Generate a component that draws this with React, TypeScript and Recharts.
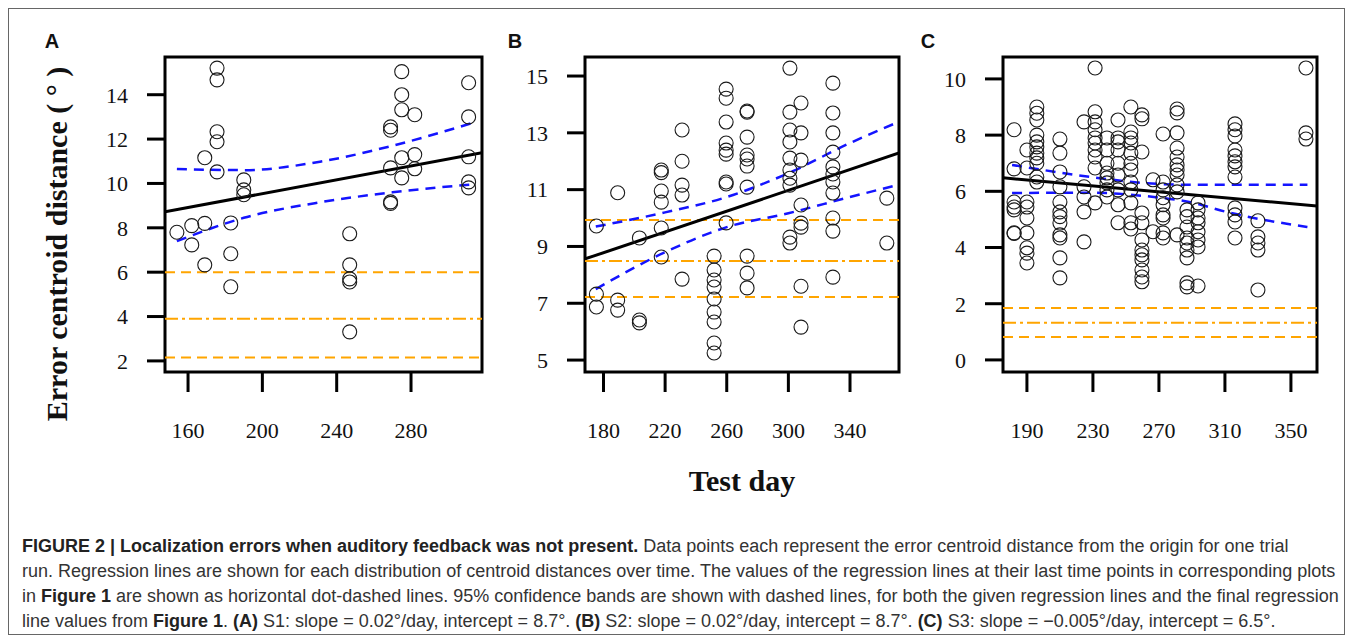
import { ComposedChart, Scatter, Line, XAxis, YAxis, ReferenceLine, ReferenceArea } from 'recharts';

// ---- Panel A (S1) ----
const aDays = [154, 162, 162, 169, 169, 169, 175.6, 175.6, 175.6, 175.6, 175.6, 183, 183, 183, 190, 190, 190,
  247, 247, 247, 247, 247, 269, 269, 269, 269, 269, 275, 275, 275, 275, 275, 282, 282, 282, 311, 311, 311, 311, 311];
const aDist = [7.8, 8.1, 7.23, 8.2, 6.33, 11.16, 15.2, 14.67, 12.33, 11.88, 10.52, 8.22, 6.83, 5.34, 10.16, 9.71, 9.49,
  7.73, 6.33, 5.7, 5.56, 3.31, 12.55, 12.4, 10.7, 9.17, 9.1, 15.04, 14.0, 13.32, 11.16, 10.25, 13.1, 11.3, 10.66,
  14.54, 13.0, 11.2, 10.07, 9.8];
const aFitDays = [147.6, 318.2];
const aFitValues = [8.72, 11.38];
const aBandDays = [154, 190, 231, 270, 312];
const aBandUpper = [10.65, 10.6, 10.98, 11.7, 12.7];
const aBandLower = [7.4, 8.45, 9.15, 9.6, 9.95];
const aRefLevels = [6.0, 3.9, 2.15];

// ---- Panel B (S2) ----
const bDays = [175.4, 175.4, 175.4, 189.2, 189.2, 189.2, 203.3, 203.3, 203.3,
  217.5, 217.5, 217.5, 217.5, 217.5, 217.5, 231, 231, 231, 231, 231,
  259.6, 259.6, 259.6, 259.6, 259.6, 259.6, 259.6, 259.6, 259.6,
  251.8, 251.8, 251.8, 251.8, 251.8, 251.8, 251.8, 251.8, 251.8,
  273.2, 273.2, 273.2, 273.2, 273.2, 273.2, 273.2, 273.2, 273.2, 273.2,
  301, 301, 301, 301, 301, 301, 301, 301, 301, 301,
  308.2, 308.2, 308.2, 308.2, 308.2, 308.2, 308.2, 308.2,
  328.9, 328.9, 328.9, 328.9, 328.9, 328.9, 328.9, 328.9, 328.9, 328.9, 328.9,
  363.9, 363.9];
const bDist = [9.72, 7.32, 6.87, 10.89, 7.11, 6.76, 6.41, 6.31, 9.3,
  11.69, 11.6, 10.95, 10.56, 9.65, 8.63, 13.1, 12.0, 11.16, 10.81, 7.85,
  14.54, 14.22, 13.38, 12.64, 12.39, 12.25, 11.27, 11.2, 9.83,
  8.66, 8.17, 7.82, 7.57, 7.15, 6.69, 6.34, 5.6, 5.25,
  13.77, 13.73, 12.85, 12.22, 12.08, 11.83, 11.09, 8.66, 8.06, 7.54,
  15.28, 13.73, 13.1, 12.68, 12.11, 11.69, 11.4, 11.16, 9.33, 9.12,
  14.05, 13.0, 12.04, 10.46, 9.82, 9.68, 7.6, 6.16,
  14.75, 13.7, 13.0, 12.32, 11.8, 11.55, 11.27, 10.88, 10.0, 9.54, 7.92,
  10.7, 9.12];
const bFitDays = [168.0, 371.8];
const bFitValues = [8.56, 12.29];
const bBandDays = [175, 220, 260, 300, 340, 370];
const bBandUpper = [9.7, 10.2, 10.74, 11.58, 12.64, 13.35];
const bBandLower = [7.5, 8.8, 9.68, 10.17, 10.74, 11.15];
const bRefLevels = [9.93, 8.49, 7.22];

// ---- Panel C (S3) ----
const cDays = [
  182.2, 182.2, 182.2, 182.2, 182.2, 182.2, 182.2,
  190, 190, 190, 190, 190, 190, 190, 190, 190,
  196, 196, 196, 196, 196, 196, 196, 196, 196, 196, 196,
  210, 210, 210, 210, 210, 210, 210, 210, 210, 210, 210, 210,
  224.6, 224.6, 224.6, 224.6, 224.6,
  231.3, 231.3, 231.3, 231.3, 231.3, 231.3, 231.3, 231.3, 231.3, 231.3,
  238.5, 238.5, 238.5, 238.5, 238.5, 238.5, 238.5, 238.5,
  245.2, 245.2, 245.2, 245.2, 245.2, 245.2, 245.2, 245.2, 245.2,
  253, 253, 253, 253, 253, 253, 253, 253, 253, 253, 253, 253,
  259.7, 259.7, 259.7, 259.7, 259.7, 259.7, 259.7, 259.7, 259.7, 259.7, 259.7, 259.7,
  266.4, 266.4,
  272.5, 272.5, 272.5, 272.5, 272.5, 272.5, 272.5, 272.5, 272.5,
  281, 281, 281, 281, 281, 281, 281, 281, 281, 281, 281,
  287, 287, 287, 287, 287, 287, 287, 287, 287,
  293.7, 293.7, 293.7, 293.7, 293.7, 293.7, 293.7, 293.7,
  316.1, 316.1, 316.1, 316.1, 316.1, 316.1, 316.1, 316.1, 316.1, 316.1, 316.1, 316.1,
  330, 330, 330, 330, 330,
  359.1, 359.1, 359.1];
const cDist = [
  8.19, 6.8, 5.62, 5.44, 5.34, 4.52, 4.5,
  7.47, 6.83, 5.62, 5.44, 5.05, 4.52, 3.99, 3.8, 3.45,
  9.0, 8.78, 8.54, 8.0, 7.76, 7.58, 7.36, 7.19, 7.0, 6.51, 6.33,
  7.86, 7.36, 6.69, 6.16, 5.62, 5.27, 5.1, 4.87, 4.45, 4.34, 3.63, 2.92,
  8.47, 6.16, 5.8, 5.27, 4.2,
  10.39, 8.83, 8.47, 8.19, 7.9, 7.72, 7.47, 7.22, 6.83, 5.59,
  7.9, 7.47, 7.0, 6.65, 6.48, 6.3, 6.05, 5.8,
  8.54, 7.9, 7.76, 7.47, 7.0, 6.58, 6.05, 5.52, 4.88,
  9.0, 8.11, 7.9, 7.72, 7.36, 7.0, 6.76, 6.33, 6.05, 5.59, 4.88, 4.66,
  8.72, 8.58, 7.4, 5.23, 4.88, 4.27, 3.91, 3.74, 3.56, 3.2, 2.95, 2.78,
  6.41, 4.56,
  8.04, 6.33, 6.05, 5.77, 5.52, 5.16, 5.05, 4.52, 4.34,
  8.93, 8.79, 8.08, 7.54, 7.22, 6.94, 6.76, 6.58, 6.23, 5.98, 4.45,
  5.34, 5.1, 4.73, 4.34, 4.16, 3.91, 3.63, 2.74, 2.6,
  5.59, 5.34, 5.05, 4.88, 4.56, 4.27, 4.02, 2.63,
  8.4, 8.19, 7.97, 7.47, 7.26, 7.05, 6.87, 6.51, 5.41, 5.16, 4.91, 4.34,
  4.95, 4.38, 4.16, 3.91, 2.49,
  10.39, 8.08, 7.86];
const cFitDays = [175.5, 365.8];
const cFitValues = [6.48, 5.48];
const cBandDays = [181, 230, 260, 290, 312, 360];
const cBandUpper = [6.94, 6.5, 6.3, 6.23, 6.23, 6.23];
const cBandLower = [5.94, 5.95, 5.84, 5.6, 5.25, 4.73];
const cRefLevels = [1.85, 1.32, 0.82];

const zip = (xs: number[], ys: number[]) => xs.map((x, i) => ({ x, y: ys[i] }));

const serif = '"Liberation Serif", "Times New Roman", serif';
const sans = '"Liberation Sans", Arial, sans-serif';

const Ring = (props: any) => (
  <circle cx={props.cx} cy={props.cy} r={7} fill="none" stroke="#1a1a1a" strokeWidth={1.1} />
);

interface PanelProps {
  left: number;
  days: number[];
  dist: number[];
  fitDays: number[];
  fitValues: number[];
  bandDays: number[];
  upper: number[];
  lower: number[];
  refLevels: number[];
  xDomain: [number, number];
  yDomain: [number, number];
  xTicks: number[];
  yTicks: number[];
  right: number;
}

function Panel(p: PanelProps) {
  const tickStyle = { fontFamily: serif, fontSize: 22, fill: '#111' };
  return (
    <div style={{ position: 'absolute', left: p.left, top: 0 }}>
      <ComposedChart width={480} height={450} margin={{ top: 49, right: p.right, bottom: 26, left: 97 }}>
        <XAxis
          type="number"
          dataKey="x"
          domain={p.xDomain}
          ticks={p.xTicks}
          allowDataOverflow
          axisLine={false}
          tickLine={{ stroke: '#000', strokeWidth: 3 }}
          tickSize={20}
          tickMargin={30}
          height={60}
          tick={tickStyle}
        />
        <YAxis
          type="number"
          dataKey="y"
          domain={p.yDomain}
          ticks={p.yTicks}
          allowDataOverflow
          axisLine={false}
          tickLine={{ stroke: '#000', strokeWidth: 3 }}
          tickSize={18}
          tickMargin={19}
          width={60}
          tick={tickStyle}
        />
        {p.refLevels.map((lvl, i) => (
          <ReferenceLine
            key={i}
            y={lvl}
            stroke="#ffa500"
            strokeWidth={2}
            strokeDasharray={i === 1 ? '13 4 3 4' : '10 6'}
          />
        ))}
        <Scatter data={zip(p.days, p.dist)} shape={Ring} isAnimationActive={false} />
        <Line data={zip(p.bandDays, p.upper)} dataKey="y" type="monotone" stroke="#1414ff" strokeWidth={2.5}
          strokeDasharray="10 7" dot={false} isAnimationActive={false} />
        <Line data={zip(p.bandDays, p.lower)} dataKey="y" type="monotone" stroke="#1414ff" strokeWidth={2.5}
          strokeDasharray="10 7" dot={false} isAnimationActive={false} />
        <Line data={zip(p.fitDays, p.fitValues)} dataKey="y" type="linear" stroke="#000" strokeWidth={3}
          dot={false} isAnimationActive={false} />
        <ReferenceArea
          x1={p.xDomain[0]}
          x2={p.xDomain[1]}
          y1={p.yDomain[0]}
          y2={p.yDomain[1]}
          fill="none"
          fillOpacity={0}
          stroke="#000"
          strokeWidth={3}
          ifOverflow="visible"
        />
      </ComposedChart>
    </div>
  );
}

export default function App() {
  return (
    <div style={{ position: 'relative', width: 1338, height: 628 }}>
      <Panel left={0} days={aDays} dist={aDist} fitDays={aFitDays} fitValues={aFitValues}
        bandDays={aBandDays} upper={aBandUpper} lower={aBandLower} refLevels={aRefLevels}
        xDomain={[147.6, 318.2]} yDomain={[1.5, 15.7]} xTicks={[160, 200, 240, 280]}
        yTicks={[2, 4, 6, 8, 10, 12, 14]} right={6} />
      <Panel left={420} days={bDays} dist={bDist} fitDays={bFitDays} fitValues={bFitValues}
        bandDays={bBandDays} upper={bBandUpper} lower={bBandLower} refLevels={bRefLevels}
        xDomain={[168.0, 371.8]} yDomain={[4.58, 15.67]} xTicks={[180, 220, 260, 300, 340]}
        yTicks={[5, 7, 9, 11, 13, 15]} right={9} />
      <Panel left={838} days={cDays} dist={cDist} fitDays={cFitDays} fitValues={cFitValues}
        bandDays={cBandDays} upper={cBandUpper} lower={cBandLower} refLevels={cRefLevels}
        xDomain={[175.5, 365.8]} yDomain={[-0.43, 10.78]} xTicks={[190, 230, 270, 310, 350]}
        yTicks={[0, 2, 4, 6, 8, 10]} right={9} />
      <svg width={1338} height={628} style={{ position: 'absolute', left: 0, top: 0, pointerEvents: 'none', zIndex: 5 }}>
        <rect x={0.5} y={0.5} width={1336} height={626} fill="none" stroke="#666" strokeWidth={1} />
        <text x={44} y={40} fontFamily={sans} fontWeight="bold" fontSize={20} textAnchor="middle" fill="#111">A</text>
        <text x={507} y={40} fontFamily={sans} fontWeight="bold" fontSize={20} textAnchor="middle" fill="#111">B</text>
        <text x={920} y={40} fontFamily={sans} fontWeight="bold" fontSize={20} textAnchor="middle" fill="#111">C</text>
        <text transform="translate(59,236) rotate(-90)" fontFamily={serif} fontWeight="bold" fontSize={30}
          textAnchor="middle" fill="#111">Error centroid distance ( ° )</text>
        <text x={734} y={483} fontFamily={serif} fontWeight="bold" fontSize={30} textAnchor="middle" fill="#111">Test day</text>
      </svg>
      <div style={{ position: 'absolute', left: 14, top: 526, fontFamily: sans, fontSize: 18, lineHeight: '25px',
        color: '#333', whiteSpace: 'nowrap' }}>
        <div><b style={{ color: '#222' }}>FIGURE 2 | Localization errors when auditory feedback was not present.</b> Data points each represent the error centroid distance from the origin for one trial</div>
        <div>run. Regression lines are shown for each distribution of centroid distances over time. The values of the regression lines at their last time points in corresponding plots</div>
        <div>in <b style={{ color: '#222' }}>Figure 1</b> are shown as horizontal dot-dashed lines. 95% confidence bands are shown with dashed lines, for both the given regression lines and the final regression</div>
        <div>line values from <b style={{ color: '#222' }}>Figure 1</b>. <b style={{ color: '#222' }}>(A)</b> S1: slope = 0.02°/day, intercept = 8.7°. <b style={{ color: '#222' }}>(B)</b> S2: slope = 0.02°/day, intercept = 8.7°. <b style={{ color: '#222' }}>(C)</b> S3: slope = −0.005°/day, intercept = 6.5°.</div>
      </div>
    </div>
  );
}
